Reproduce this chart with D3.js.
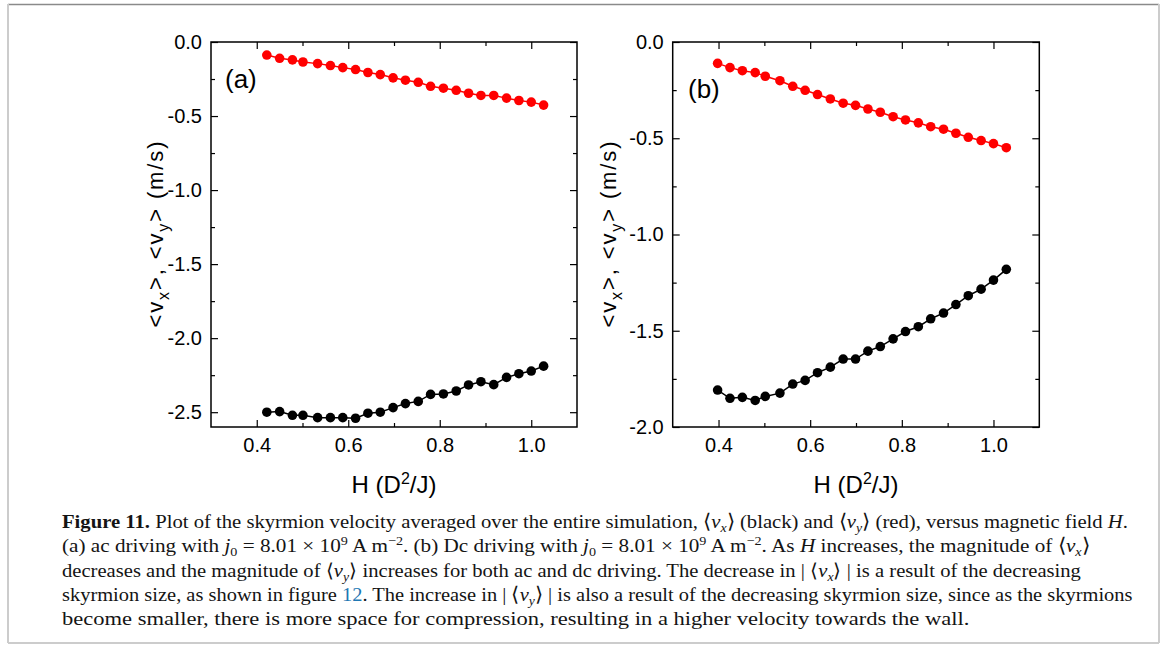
<!DOCTYPE html>
<html>
<head>
<meta charset="utf-8">
<script src="https://cdn.jsdelivr.net/npm/d3@7"></script>
<style>
  html, body { margin: 0; padding: 0; background: #fff; }
  svg { display: block; }
</style>
</head>
<body>
<svg id="chart" width="1167" height="668"></svg>
<script>
// ---------------- DATA ----------------
const xTicks = [0.4, 0.6, 0.8, 1.0];
const xTickLabels = ["0.4", "0.6", "0.8", "1.0"];
const xMinorTicks = [0.5, 0.7, 0.9];

const yTicksA = [0, -0.5, -1.0, -1.5, -2.0, -2.5];
const yTickLabelsA = ["0.0", "-0.5", "-1.0", "-1.5", "-2.0", "-2.5"];
const yMinorA = [-0.25, -0.75, -1.25, -1.75, -2.25];

const yTicksB = [0, -0.5, -1.0, -1.5, -2.0];
const yTickLabelsB = ["0.0", "-0.5", "-1.0", "-1.5", "-2.0"];
const yMinorB = [-0.25, -0.75, -1.25, -1.75];

// panel (a): ac driving
const hA  = [0.422,0.450,0.478,0.501,0.533,0.561,0.588,0.616,0.643,0.670,0.698,0.725,0.753,0.780,0.808,0.836,0.863,0.890,0.918,0.946,0.973,1.000,1.027];
const vxA = [-2.500,-2.496,-2.521,-2.521,-2.537,-2.537,-2.537,-2.541,-2.507,-2.500,-2.469,-2.442,-2.427,-2.380,-2.377,-2.357,-2.316,-2.294,-2.314,-2.265,-2.240,-2.222,-2.189];
const vyA = [-0.088,-0.110,-0.121,-0.135,-0.146,-0.159,-0.173,-0.186,-0.206,-0.220,-0.242,-0.258,-0.272,-0.299,-0.312,-0.326,-0.346,-0.361,-0.361,-0.379,-0.395,-0.406,-0.426];

// panel (b): dc driving
const hB  = [0.398,0.425,0.452,0.480,0.502,0.534,0.562,0.589,0.616,0.644,0.672,0.699,0.726,0.753,0.781,0.808,0.836,0.863,0.891,0.918,0.945,0.973,1.000,1.028];
const vxB = [-1.808,-1.851,-1.846,-1.862,-1.841,-1.824,-1.777,-1.758,-1.718,-1.689,-1.647,-1.647,-1.606,-1.582,-1.542,-1.504,-1.479,-1.438,-1.408,-1.364,-1.318,-1.284,-1.237,-1.181];
const vyB = [-0.111,-0.133,-0.149,-0.159,-0.178,-0.201,-0.230,-0.251,-0.273,-0.296,-0.318,-0.329,-0.348,-0.365,-0.388,-0.405,-0.420,-0.440,-0.453,-0.474,-0.495,-0.512,-0.528,-0.549];

// ---------------- DRAW ----------------
const svg = d3.select("#chart");
const SANS = "'Liberation Sans', Arial, sans-serif";
const SERIF = "'Liberation Serif', 'Times New Roman', serif";

// figure frame
const frameBottom = 643;
svg.append("line").attr("x1", 8).attr("x2", 1159).attr("y1", 4.5).attr("y2", 4.5)
  .attr("stroke", "#8a8a8a").attr("stroke-width", 1.5);
svg.append("line").attr("x1", 8).attr("x2", 8).attr("y1", 4).attr("y2", frameBottom)
  .attr("stroke", "#cccccc").attr("stroke-width", 2);
svg.append("line").attr("x1", 1159).attr("x2", 1159).attr("y1", 4).attr("y2", frameBottom)
  .attr("stroke", "#cccccc").attr("stroke-width", 2);
svg.append("line").attr("x1", 8).attr("x2", 1159).attr("y1", frameBottom).attr("y2", frameBottom)
  .attr("stroke", "#cccccc").attr("stroke-width", 2);

function drawPanel(cfg) {
  const x = d3.scaleLinear().domain([0.3, 1.1]).range([cfg.left, cfg.right]);
  const y = d3.scaleLinear().domain([cfg.yMin, 0]).range([cfg.bottom, cfg.top]);
  const g = svg.append("g");

  function styleAxis(sel) {
    sel.select(".domain").remove();
    sel.selectAll("line").attr("stroke", "#000").attr("stroke-width", 1.2);
    sel.selectAll("text").attr("fill", "#000").style("font-family", SANS).style("font-size", "20px");
  }

  // bottom
  g.append("g").attr("transform", `translate(0,${cfg.bottom})`)
    .call(d3.axisBottom(x).tickValues(xTicks).tickFormat((d, i) => xTickLabels[i])
      .tickSizeInner(-7).tickSizeOuter(0).tickPadding(11)).call(styleAxis);
  g.append("g").attr("transform", `translate(0,${cfg.bottom})`)
    .call(d3.axisBottom(x).tickValues(xMinorTicks).tickFormat(() => "")
      .tickSizeInner(-4).tickSizeOuter(0)).call(styleAxis);
  // top
  g.append("g").attr("transform", `translate(0,${cfg.top})`)
    .call(d3.axisTop(x).tickValues(xTicks).tickFormat(() => "")
      .tickSizeInner(-7).tickSizeOuter(0)).call(styleAxis);
  g.append("g").attr("transform", `translate(0,${cfg.top})`)
    .call(d3.axisTop(x).tickValues(xMinorTicks).tickFormat(() => "")
      .tickSizeInner(-4).tickSizeOuter(0)).call(styleAxis);
  // left
  g.append("g").attr("transform", `translate(${cfg.left},0)`)
    .call(d3.axisLeft(y).tickValues(cfg.yTicks).tickFormat((d, i) => cfg.yTickLabels[i])
      .tickSizeInner(-7).tickSizeOuter(0).tickPadding(9)).call(styleAxis);
  g.append("g").attr("transform", `translate(${cfg.left},0)`)
    .call(d3.axisLeft(y).tickValues(cfg.yMinor).tickFormat(() => "")
      .tickSizeInner(-4).tickSizeOuter(0)).call(styleAxis);
  // right
  g.append("g").attr("transform", `translate(${cfg.right},0)`)
    .call(d3.axisRight(y).tickValues(cfg.yTicks).tickFormat(() => "")
      .tickSizeInner(-7).tickSizeOuter(0)).call(styleAxis);
  g.append("g").attr("transform", `translate(${cfg.right},0)`)
    .call(d3.axisRight(y).tickValues(cfg.yMinor).tickFormat(() => "")
      .tickSizeInner(-4).tickSizeOuter(0)).call(styleAxis);

  // frame
  g.append("rect").attr("x", cfg.left).attr("y", cfg.top)
    .attr("width", cfg.right - cfg.left).attr("height", cfg.bottom - cfg.top)
    .attr("fill", "none").attr("stroke", "#000").attr("stroke-width", 1.5);

  // series
  const series = [
    { v: cfg.vx, color: "#000000" },
    { v: cfg.vy, color: "#ff0000" }
  ];
  series.forEach(s => {
    const pts = cfg.h.map((hv, i) => [hv, s.v[i]]);
    g.append("path").datum(pts)
      .attr("d", d3.line().x(d => x(d[0])).y(d => y(d[1])))
      .attr("fill", "none").attr("stroke", s.color).attr("stroke-width", 1.5);
    g.selectAll(null).data(pts).enter().append("circle")
      .attr("cx", d => x(d[0])).attr("cy", d => y(d[1])).attr("r", 4.8)
      .attr("fill", s.color);
  });

  // panel label
  g.append("text").attr("x", cfg.labX).attr("y", cfg.labY)
    .style("font-family", SANS).style("font-size", "26px").attr("fill", "#000")
    .text(cfg.label);

  // y-axis title
  const yt = g.append("text")
    .attr("transform", `translate(${cfg.ylabX},${(cfg.top + cfg.bottom) / 2}) rotate(-90)`)
    .attr("text-anchor", "middle")
    .attr("textLength", 186).attr("lengthAdjust", "spacing")
    .style("font-family", SANS).style("font-size", "22px").attr("fill", "#000");
  yt.append("tspan").text("<v");
  yt.append("tspan").attr("dy", 6).style("font-size", "16px").text("x");
  yt.append("tspan").attr("dy", -6).text(">, <v");
  yt.append("tspan").attr("dy", 6).style("font-size", "16px").text("y");
  yt.append("tspan").attr("dy", -6).text("> (m/s)");

  // x-axis title
  const xt = g.append("text")
    .attr("x", (cfg.left + cfg.right) / 2).attr("y", 493)
    .attr("text-anchor", "middle")
    .style("font-family", SANS).style("font-size", "24px").attr("fill", "#000");
  xt.append("tspan").text("H (D");
  xt.append("tspan").attr("dy", -9).style("font-size", "16px").text("2");
  xt.append("tspan").attr("dy", 9).text("/J)");
}

drawPanel({
  left: 211, right: 577, top: 42, bottom: 427, yMin: -2.6,
  yTicks: yTicksA, yTickLabels: yTickLabelsA, yMinor: yMinorA,
  h: hA, vx: vxA, vy: vyA, label: "(a)", labX: 225, labY: 88, ylabX: 163
});
drawPanel({
  left: 672.7, right: 1039.3, top: 42, bottom: 427, yMin: -2.0,
  yTicks: yTicksB, yTickLabels: yTickLabelsB, yMinor: yMinorB,
  h: hB, vx: vxB, vy: vyB, label: "(b)", labX: 688, labY: 98, ylabX: 616
});

// ---------------- CAPTION ----------------
// segment kinds: n normal, b bold, i italic, sub, sup, isub (italic sub), link
const captionLines = [
  { base: 528, right: 1130, segs: [
    ["Figure 11.", "b"], [" Plot of the skyrmion velocity averaged over the entire simulation, \u27e8", "n"],
    ["v", "i"], ["x", "isub"], ["\u27e9 (black) and \u27e8", "n"], ["v", "i"], ["y", "isub"],
    ["\u27e9 (red), versus magnetic field ", "n"], ["H", "i"], [".", "n"]
  ]},
  { base: 552, right: 1091, segs: [
    ["(a) ac driving with ", "n"], ["j", "i"], ["0", "sub"], [" = 8.01 \u00d7 10", "n"], ["9", "sup"],
    [" A\u2009m", "n"], ["\u22122", "sup"], [". (b) Dc driving with ", "n"], ["j", "i"], ["0", "sub"],
    [" = 8.01 \u00d7 10", "n"], ["9", "sup"], [" A\u2009m", "n"], ["\u22122", "sup"], [". As ", "n"], ["H", "i"],
    [" increases, the magnitude of \u27e8", "n"], ["v", "i"], ["x", "isub"], ["\u27e9", "n"]
  ]},
  { base: 577, right: 1083, segs: [
    ["decreases and the magnitude of \u27e8", "n"], ["v", "i"], ["y", "isub"],
    ["\u27e9 increases for both ac and dc driving. The decrease in | \u27e8", "n"], ["v", "i"], ["x", "isub"],
    ["\u27e9 | is a result of the decreasing", "n"]
  ]},
  { base: 601, right: 1134, segs: [
    ["skyrmion size, as shown in figure ", "n"], ["12", "link"], [". The increase in | \u27e8", "n"],
    ["v", "i"], ["y", "isub"], ["\u27e9 | is also a result of the decreasing skyrmion size, since as the skyrmions", "n"]
  ]},
  { base: 625, right: 970, segs: [
    ["become smaller, there is more space for compression, resulting in a higher velocity towards the wall.", "n"]
  ]}
];

const capLeft = 62;
captionLines.forEach(line => {
  const t = svg.append("text")
    .attr("transform", `translate(${capLeft},${line.base})`)
    .style("font-family", SERIF).style("font-size", "19.5px").attr("fill", "#141414");
  let shift = 0;
  line.segs.forEach(([txt, kind]) => {
    const ts = t.append("tspan").text(txt);
    let target = 0;
    if (kind === "sub" || kind === "isub") target = 4;
    if (kind === "sup") target = -7;
    if (target !== shift) { ts.attr("dy", target - shift); shift = target; }
    if (kind === "b") ts.style("font-weight", "bold");
    if (kind === "i" || kind === "isub") ts.style("font-style", "italic");
    if (kind === "sub" || kind === "isub" || kind === "sup") ts.style("font-size", "13px");
    if (kind === "link") ts.attr("fill", "#1f78b4");
  });
  const w = t.node().getBBox().width;
  const s = (line.right - capLeft) / w;
  t.attr("transform", `translate(${capLeft},${line.base}) scale(${s},1)`);
});
</script>
</body>
</html>
